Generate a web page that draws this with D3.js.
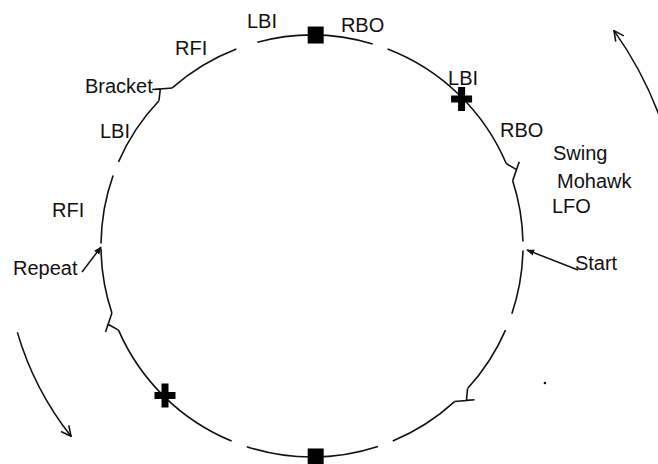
<!DOCTYPE html>
<html>
<head>
<meta charset="utf-8">
<script src="https://cdn.jsdelivr.net/npm/d3@7"></script>
<style>
  html, body { margin: 0; padding: 0; background: #fff; }
  text { font-family: "Liberation Sans", Arial, sans-serif; font-size: 20px; fill: #111; }
</style>
</head>
<body>
<div id="chart"></div>
<script>
// circle drawn with gaps; angles in degrees, clockwise from 12 o'clock
const arcSegments = [[-15, 16.7], [21, 67], [72, 88.8], [91.2, 108.7], [113.5, 132.5],
  [137.5, 157.5], [161.8, 198], [202.4, 246.5], [251.5, 269.3], [270.7, 289.5],
  [293.5, 313.5], [318.5, 339]];
const bracketAngles = [69.5, 135, 249, 316];
const squareAngles = [1, 179];
const crossAngles = [45.5, 224.5];

// labels in circle units (radius = 1)
const labelText = ['LBI', 'RBO', 'RFI', 'Bracket', 'LBI', 'RFI', 'Repeat', 'LBI', 'RBO', 'Swing', 'Mohawk', 'LFO', 'Start'];
const labelU = [-0.308, 0.137, -0.649, -1.076, -1.005, -1.232, -1.417, 0.645, 0.891, 1.142, 1.161, 1.137, 1.246];
const labelV = [1.033, 1.014, 0.905, 0.725, 0.512, 0.137, -0.137, 0.763, 0.517, 0.408, 0.275, 0.156, -0.114];

// pointer arrows: tail -> head
const straightArrows = [[[-1.09, -0.123], [-1.0, -0.005]], [[1.261, -0.114], [1.019, -0.019]]];
// direction arrows around the circle
const curvedArrows = [{ k: 1.758, from: 70, to: 54.5 }, { k: 1.455, from: 253.7, to: 231.7 }];
const dots = [[1.104, -0.649]];

const W = 658, H = 464;
const CX = 312, CY = 246, R = 211;

const x = d3.scaleLinear().domain([-1, 1]).range([CX - R, CX + R]);
const y = d3.scaleLinear().domain([-1, 1]).range([CY + R, CY - R]);
const rad = d3.scaleLinear().domain([0, 1]).range([0, R]);
const ang = d3.scaleLinear().domain([0, 360]).range([0, 2 * Math.PI]);

function polar(deg, k) {
  return [CX + rad(k) * Math.sin(ang(deg)), CY - rad(k) * Math.cos(ang(deg))];
}

const svg = d3.select('#chart').append('svg')
  .attr('width', W)
  .attr('height', H);

const defs = svg.append('defs');
defs.append('marker')
  .attr('id', 'headFill')
  .attr('viewBox', '0 -5 10 10')
  .attr('refX', 9).attr('refY', 0)
  .attr('markerWidth', 8).attr('markerHeight', 8)
  .attr('markerUnits', 'userSpaceOnUse')
  .attr('orient', 'auto')
  .append('path')
  .attr('d', 'M0,-4L10,0L0,4Z')
  .attr('fill', '#111');
defs.append('marker')
  .attr('id', 'headOpen')
  .attr('viewBox', '0 -6 12 12')
  .attr('refX', 11).attr('refY', 0)
  .attr('markerWidth', 12).attr('markerHeight', 12)
  .attr('markerUnits', 'userSpaceOnUse')
  .attr('orient', 'auto')
  .append('path')
  .attr('d', 'M1,-5L11,0L1,5')
  .attr('fill', 'none')
  .attr('stroke', '#111')
  .attr('stroke-width', 1.6);

const g = svg.append('g');

// circle pieces
g.selectAll('path.seg')
  .data(arcSegments)
  .join('path')
  .attr('class', 'seg')
  .attr('d', d => {
    const p = d3.path();
    const a0 = ang(d[0]) - Math.PI / 2, a1 = ang(d[1]) - Math.PI / 2;
    p.arc(CX, CY, R, a0, a1, false);
    return p.toString();
  })
  .attr('fill', 'none')
  .attr('stroke', '#111')
  .attr('stroke-width', 1.6);

// bracket cusps
g.selectAll('path.bracket')
  .data(bracketAngles)
  .join('path')
  .attr('class', 'bracket')
  .attr('d', a => {
    const p1 = polar(a - 2.5, 1), p2 = polar(a, 1.035), p3 = polar(a + 2.5, 1);
    const t = polar(a - 1.6, 1.06);
    return `M${p1}L${p2}L${p3}M${p2}L${t}`;
  })
  .attr('fill', 'none')
  .attr('stroke', '#111')
  .attr('stroke-width', 1.6);

// square markers
g.selectAll('rect.sq')
  .data(squareAngles)
  .join('rect')
  .attr('class', 'sq')
  .attr('x', a => polar(a, 1)[0] - 8)
  .attr('y', a => polar(a, 1)[1] - 8.5)
  .attr('width', 16)
  .attr('height', 17)
  .attr('fill', '#000');

// cross markers
g.selectAll('path.cross')
  .data(crossAngles)
  .join('path')
  .attr('class', 'cross')
  .attr('transform', a => `translate(${polar(a, 0.994)})`)
  .attr('d', 'M-3.5,-12H3.5V-3.5H10.5V3.5H3.5V12H-3.5V3.5H-10.5V-3.5H-3.5Z')
  .attr('fill', '#000');

// straight pointer arrows
g.selectAll('line.ptr')
  .data(straightArrows)
  .join('line')
  .attr('class', 'ptr')
  .attr('x1', d => x(d[0][0])).attr('y1', d => y(d[0][1]))
  .attr('x2', d => x(d[1][0])).attr('y2', d => y(d[1][1]))
  .attr('stroke', '#111')
  .attr('stroke-width', 1.5)
  .attr('marker-end', 'url(#headFill)');

// direction arrows
g.selectAll('path.dir')
  .data(curvedArrows)
  .join('path')
  .attr('class', 'dir')
  .attr('d', d => {
    const p = d3.path();
    const start = polar(d.from, d.k);
    p.moveTo(start[0], start[1]);
    p.arc(CX, CY, rad(d.k), ang(d.from) - Math.PI / 2, ang(d.to) - Math.PI / 2, true);
    return p.toString();
  })
  .attr('fill', 'none')
  .attr('stroke', '#111')
  .attr('stroke-width', 1.5)
  .attr('marker-end', 'url(#headOpen)');

g.selectAll('circle.dot')
  .data(dots)
  .join('circle')
  .attr('class', 'dot')
  .attr('cx', d => x(d[0]))
  .attr('cy', d => y(d[1]))
  .attr('r', 1.3)
  .attr('fill', '#111');

// labels
g.selectAll('text.lbl')
  .data(labelText)
  .join('text')
  .attr('class', 'lbl')
  .attr('x', (d, i) => x(labelU[i]))
  .attr('y', (d, i) => y(labelV[i]))
  .text(d => d);
</script>
</body>
</html>
